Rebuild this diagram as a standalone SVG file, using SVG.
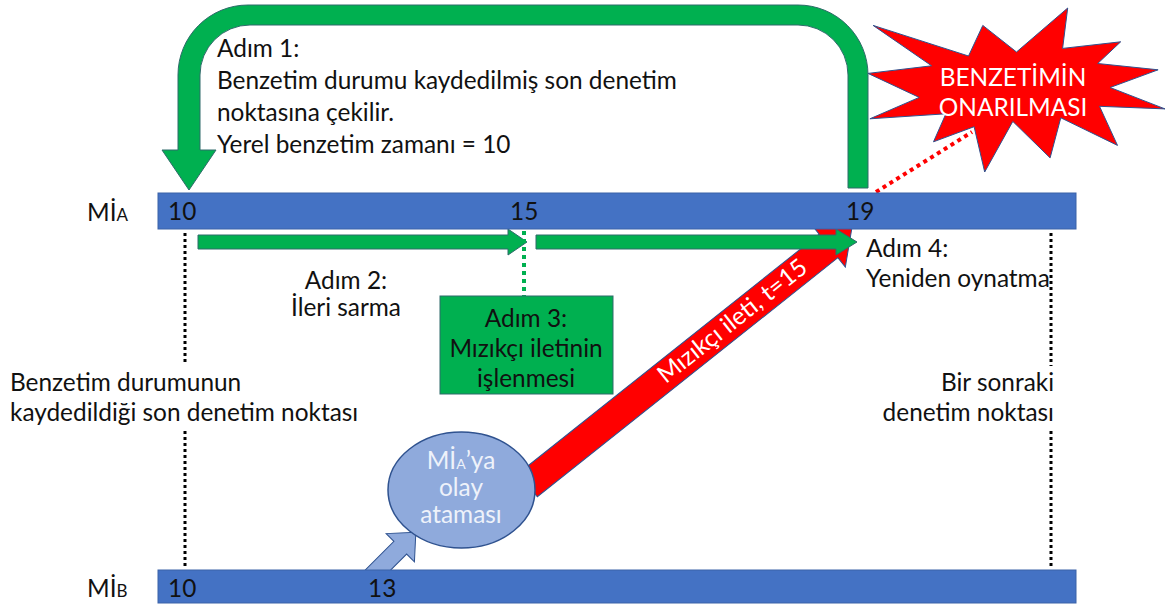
<svg xmlns="http://www.w3.org/2000/svg" width="1167" height="608" viewBox="0 0 1167 608">
  <style>
    .t { font-family: Lato, "Liberation Sans", sans-serif; font-size: 24.4px; fill: #111; }
    .mid { text-anchor: middle; }
    .end { text-anchor: end; }
    .w { fill: #ffffff; }
    .soft { fill: #eef2fa; }
    .bar { fill: #4472c4; stroke: #3a62a8; stroke-width: 1; }
    .g { fill: #00b050; stroke: #2f6b6a; stroke-width: 1; }
    .dotk { stroke: #000; stroke-width: 3; stroke-dasharray: 3 3; fill: none; }
    .dotg { stroke: #00b050; stroke-width: 4; stroke-dasharray: 4 4; fill: none; }
    .dotr { stroke: #ff0000; stroke-width: 4; stroke-dasharray: 4 4; fill: none; }
  </style>

  <!-- connectors -->
  <g id="connectors">
    <!-- message sent from B to A -->
    <g id="message-arrow" transform="translate(528,485) rotate(-38.5)">
      <polygon points="0,-15 384,-15 384,-27 414,0 384,27 384,15 0,15" fill="#ff0000" stroke="#2f528f" stroke-width="1"/>
      <text class="t w mid" x="262" y="7" font-size="19.5">Mızıkçı ileti, t=15</text>
    </g>
    <!-- rollback to checkpoint -->
    <path id="rollback-arrow" class="g" d="M848,188 L848,75 A50,50 0 0 0 798,25 L250,25 A50,50 0 0 0 200,75 L200,150 L216,150 L189,190 L162,150 L178,150 L178,75 A70,70 0 0 1 248,5 L798,5 A70,70 0 0 1 868,75 L868,188 Z"/>
    <!-- fast-forward and replay -->
    <polygon id="forward-arrow" class="g" points="198,235 508,235 508,229 527,242 508,255 508,249 198,249"/>
    <polygon id="replay-arrow" class="g" points="536,235 836,235 836,229 857,242 836,255 836,249 536,249"/>
    <line class="dotg" x1="524" y1="231" x2="524" y2="296"/>
    <!-- checkpoint markers -->
    <line class="dotk" x1="185" y1="233" x2="185" y2="362"/>
    <line class="dotk" x1="185" y1="431" x2="185" y2="568"/>
    <line class="dotk" x1="1051" y1="233" x2="1051" y2="366"/>
    <line class="dotk" x1="1051" y1="431" x2="1051" y2="568"/>
    <!-- link to repair burst -->
    <line class="dotr" x1="876" y1="192" x2="972" y2="132"/>
    <!-- event scheduling arrow -->
    <polygon id="schedule-arrow" transform="translate(372,576) rotate(-45)" points="-6,-9 40,-9 40,-20 62,0 40,20 40,9 -6,9" fill="#8faadc" stroke="#2f528f" stroke-width="1"/>
  </g>

  <!-- timeline of MİA -->
  <g id="timeline-a">
    <text class="t" x="87" y="221">Mİ<tspan font-size="17">A</tspan></text>
    <rect class="bar" x="158" y="193" width="918" height="36"/>
    <text class="t" x="168" y="220">10</text>
    <text class="t" x="510" y="220">15</text>
    <text class="t" x="846" y="220">19</text>
  </g>

  <!-- timeline of MİB -->
  <g id="timeline-b">
    <text class="t" x="87" y="597">Mİ<tspan font-size="17">B</tspan></text>
    <rect class="bar" x="158" y="570" width="918" height="33"/>
    <text class="t" x="168" y="597">10</text>
    <text class="t" x="368" y="597">13</text>
  </g>

  <g id="step1">
    <text class="t" x="217" y="57">Adım 1:</text>
    <text class="t" x="217" y="89">Benzetim durumu kaydedilmiş son denetim</text>
    <text class="t" x="217" y="121">noktasına çekilir.</text>
    <text class="t" x="217" y="153">Yerel benzetim zamanı = 10</text>
  </g>

  <g id="repair-burst">
    <polygon points="1016.5,52 1067.7,8 1062.6,48.4 1120.7,41.8 1097.7,63.5 1158.1,69.8 1110.1,87.5 1165,108.9 1099.5,106.3 1117.5,145.4 1060.8,117.8 1050.1,157.9 1012.8,121.4 984.7,172 974.1,126.7 933.5,141.8 945.9,113.8 869.9,118.8 919.2,97.4 868,73.4 931.6,65.8 873.1,25.4 968.5,56 982.8,25.4" fill="#ff0000" stroke="#2f528f" stroke-width="1"/>
    <text class="t w mid" x="1013" y="86" font-size="19.5">BENZETİMİN</text>
    <text class="t w mid" x="1013" y="116" font-size="19.5">ONARILMASI</text>
  </g>

  <g id="step2">
    <text class="t mid" x="346" y="289">Adım 2:</text>
    <text class="t mid" x="346" y="316">İleri sarma</text>
  </g>

  <g id="step3">
    <rect class="g" x="440" y="296" width="173" height="98"/>
    <text class="t mid" x="526" y="327">Adım 3:</text>
    <text class="t mid" x="526" y="357">Mızıkçı iletinin</text>
    <text class="t mid" x="526" y="387">işlenmesi</text>
  </g>

  <g id="step4">
    <text class="t" x="866" y="257">Adım 4:</text>
    <text class="t" x="866" y="287">Yeniden oynatma</text>
  </g>

  <g id="last-checkpoint">
    <text class="t" x="10" y="391">Benzetim durumunun</text>
    <text class="t" x="10" y="421">kaydedildiği son denetim noktası</text>
  </g>

  <g id="next-checkpoint">
    <text class="t end" x="1054" y="391">Bir sonraki</text>
    <text class="t end" x="1054" y="421">denetim noktası</text>
  </g>

  <g id="event-scheduling">
    <ellipse cx="461.5" cy="490" rx="73.5" ry="58" fill="#8faadc" stroke="#2f528f" stroke-width="1.5"/>
    <text class="t soft mid" x="461" y="469" font-size="20">Mİ<tspan font-size="14">A</tspan>’ya</text>
    <text class="t soft mid" x="461" y="496" font-size="20">olay</text>
    <text class="t soft mid" x="461" y="523" font-size="20">ataması</text>
  </g>
</svg>
